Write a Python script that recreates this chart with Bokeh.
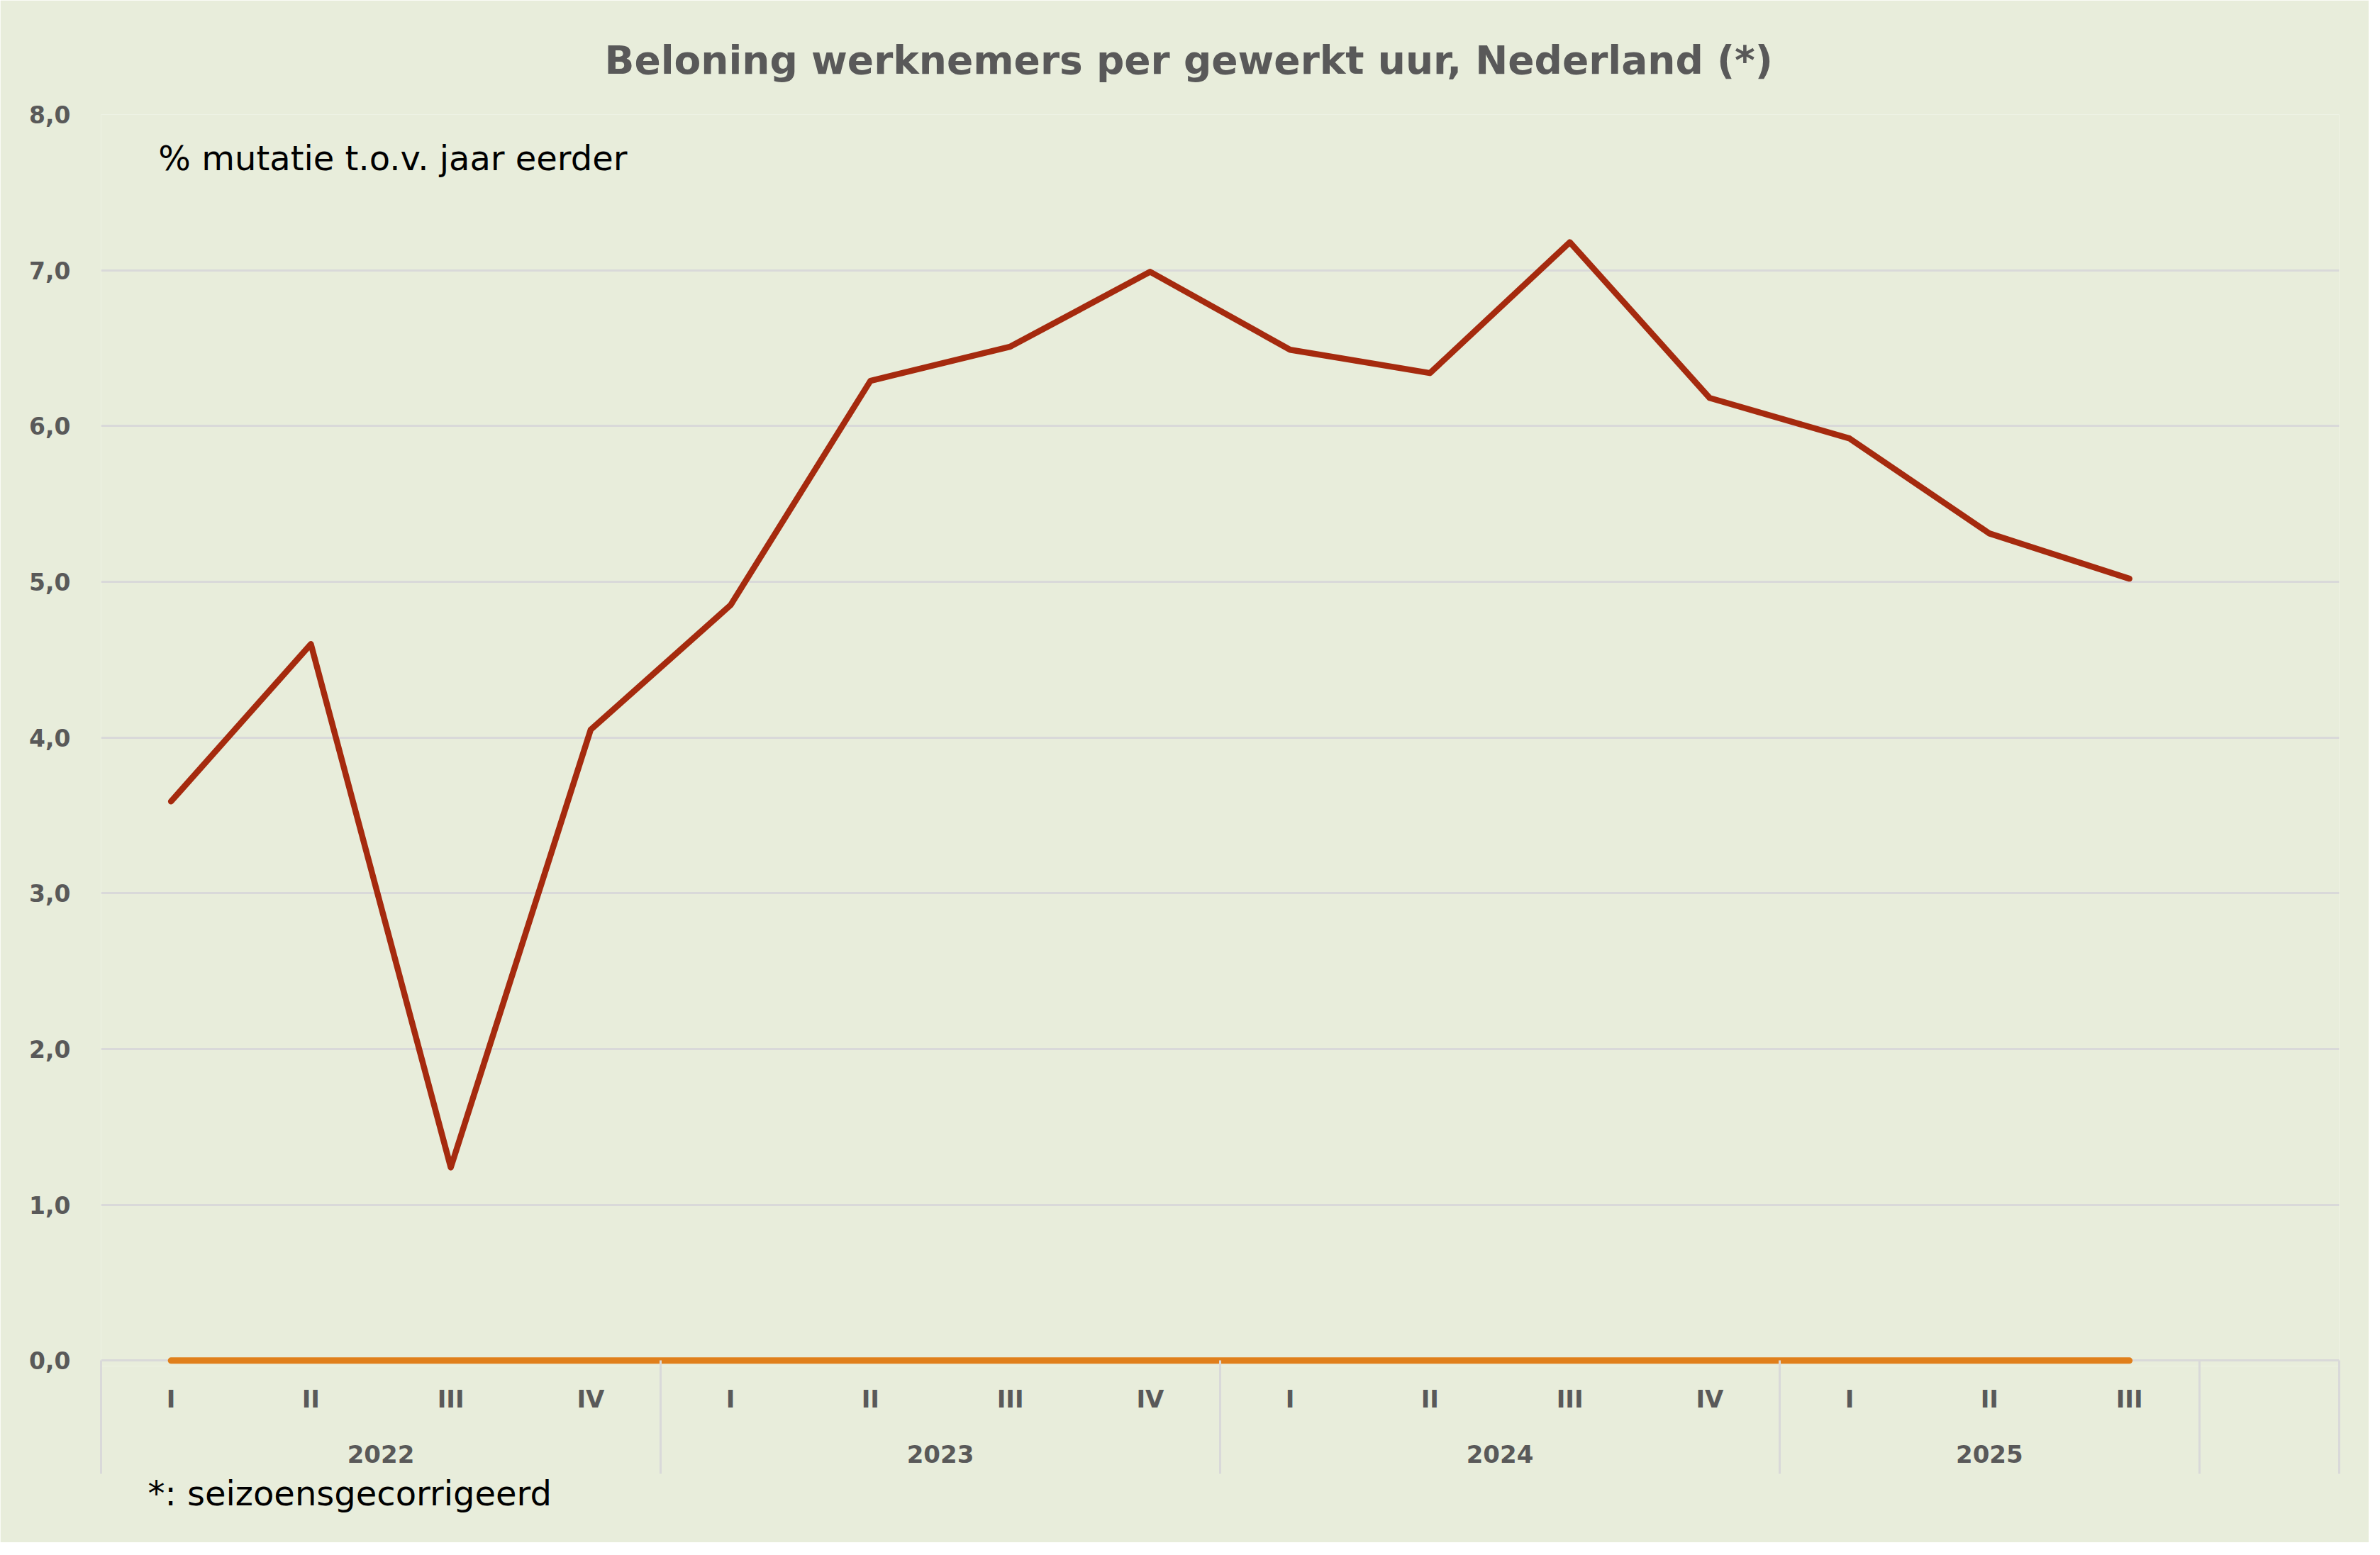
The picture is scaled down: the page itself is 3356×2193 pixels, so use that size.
from bokeh.plotting import figure
from bokeh.models import (Range1d, LinearAxis, FixedTicker, Grid, Title, Label,
                          ColumnDataSource)
from bokeh.embed import file_html
from bokeh.resources import INLINE

# ---- data ----
years = ["2022", "2023", "2024", "2025"]
year_sizes = [4, 4, 4, 3]
quarters = ["I", "II", "III", "IV", "I", "II", "III", "IV",
            "I", "II", "III", "IV", "I", "II", "III"]
beloning = [3.59, 4.60, 1.24, 4.05, 4.85, 6.29, 6.51, 6.99,
            6.49, 6.34, 7.18, 6.18, 5.92, 5.31, 5.02]
nullijn = [0.0, 0.0, 0.0, 0.0, 0.0, 0.0, 0.0, 0.0,
           0.0, 0.0, 0.0, 0.0, 0.0, 0.0, 0.0]
y_ticks = [0, 1, 2, 3, 4, 5, 6, 7, 8]
y_tick_labels = ["0,0", "1,0", "2,0", "3,0", "4,0", "5,0", "6,0", "7,0", "8,0"]
n_slots = 16  # 15 quarters + one empty slot at the end

title_text = "Beloning werknemers per gewerkt uur, Nederland (*)"
subtitle_text = "% mutatie t.o.v. jaar eerder"
footnote_text = "*: seizoensgecorrigeerd"

# ---- styling ----
BG = "#e8eddb"
GRID = "#d9d9d9"
TXT = "#595959"
RED = "#a52a0e"
ORANGE = "#e07f1b"
FONT = "DejaVu Sans"

W, H = 3340, 2175

x_pos = [i + 0.5 for i in range(len(quarters))]
boundaries = [0]
for s in year_sizes:
    boundaries.append(boundaries[-1] + s)
boundaries.append(n_slots)
year_centers = [(boundaries[i] + boundaries[i + 1]) / 2 for i in range(len(years))]

p = figure(width=W, height=H, output_backend="svg", toolbar_location=None,
           x_range=Range1d(0, n_slots), y_range=Range1d(-0.035, 8),
           x_axis_type=None, y_axis_type=None,
           min_border_left=142, min_border_right=42,
           min_border_top=161, min_border_bottom=249)
p.background_fill_color = BG
p.border_fill_color = BG
p.outline_line_color = None

# title
p.title.text = title_text
p.title.align = "left"
p.title.offset = 710
p.title.text_font = FONT
p.title.text_font_size = "55px"
p.title.text_font_style = "bold"
p.title.text_color = TXT
p.title.standoff = 89

# y axis
y_axis = LinearAxis(ticker=FixedTicker(ticks=y_ticks),
                    major_label_overrides={t: l for t, l in zip(y_ticks, y_tick_labels)},
                    axis_line_color=None, major_tick_line_color=None,
                    minor_tick_line_color=None, major_tick_in=0, major_tick_out=0,
                    major_label_standoff=43,
                    major_label_text_font=FONT, major_label_text_font_size="33px",
                    major_label_text_font_style="bold", major_label_text_color=TXT)
p.add_layout(y_axis, "left")
p.add_layout(Grid(dimension=1, ticker=y_axis.ticker, grid_line_color=GRID,
                  grid_line_width=3))

# quarter axis (group separators drawn as long minor ticks)
q_axis = LinearAxis(ticker=FixedTicker(ticks=x_pos, minor_ticks=boundaries),
                    major_label_overrides={x: q for x, q in zip(x_pos, quarters)},
                    axis_line_color=None,
                    major_tick_line_color=None, major_tick_in=0, major_tick_out=0,
                    minor_tick_line_color=GRID, minor_tick_line_width=3,
                    minor_tick_in=8, minor_tick_out=152,
                    major_label_standoff=-126,
                    major_label_text_font=FONT, major_label_text_font_size="34px",
                    major_label_text_font_style="bold", major_label_text_color=TXT)
p.add_layout(q_axis, "below")

# year axis
yr_axis = LinearAxis(ticker=FixedTicker(ticks=year_centers, minor_ticks=[]),
                     major_label_overrides={x: y for x, y in zip(year_centers, years)},
                     axis_line_color=None, major_tick_line_color=None,
                     minor_tick_line_color=None, major_tick_in=0, major_tick_out=0,
                     major_label_standoff=42,
                     major_label_text_font=FONT, major_label_text_font_size="34px",
                     major_label_text_font_style="bold", major_label_text_color=TXT)
p.add_layout(yr_axis, "below")

# footnote
p.add_layout(Title(text=footnote_text, align="left", offset=66,
                   text_font=FONT, text_font_size="48px", text_font_style="normal",
                   text_color="black", standoff=20), "below")

# lines
src = ColumnDataSource(dict(x=x_pos, beloning=beloning, nullijn=nullijn))
p.line("x", "nullijn", source=src, line_color=ORANGE, line_width=9,
       line_cap="round", line_join="round")
p.line("x", "beloning", source=src, line_color=RED, line_width=8.5,
       line_cap="round", line_join="round")

# subtitle
p.add_layout(Label(x=0.41, y=7.72, text=subtitle_text, text_baseline="middle",
                   text_align="left", text_font=FONT, text_font_size="48px",
                   text_color="black"))

open("out.html", "w").write(file_html(p, INLINE))
